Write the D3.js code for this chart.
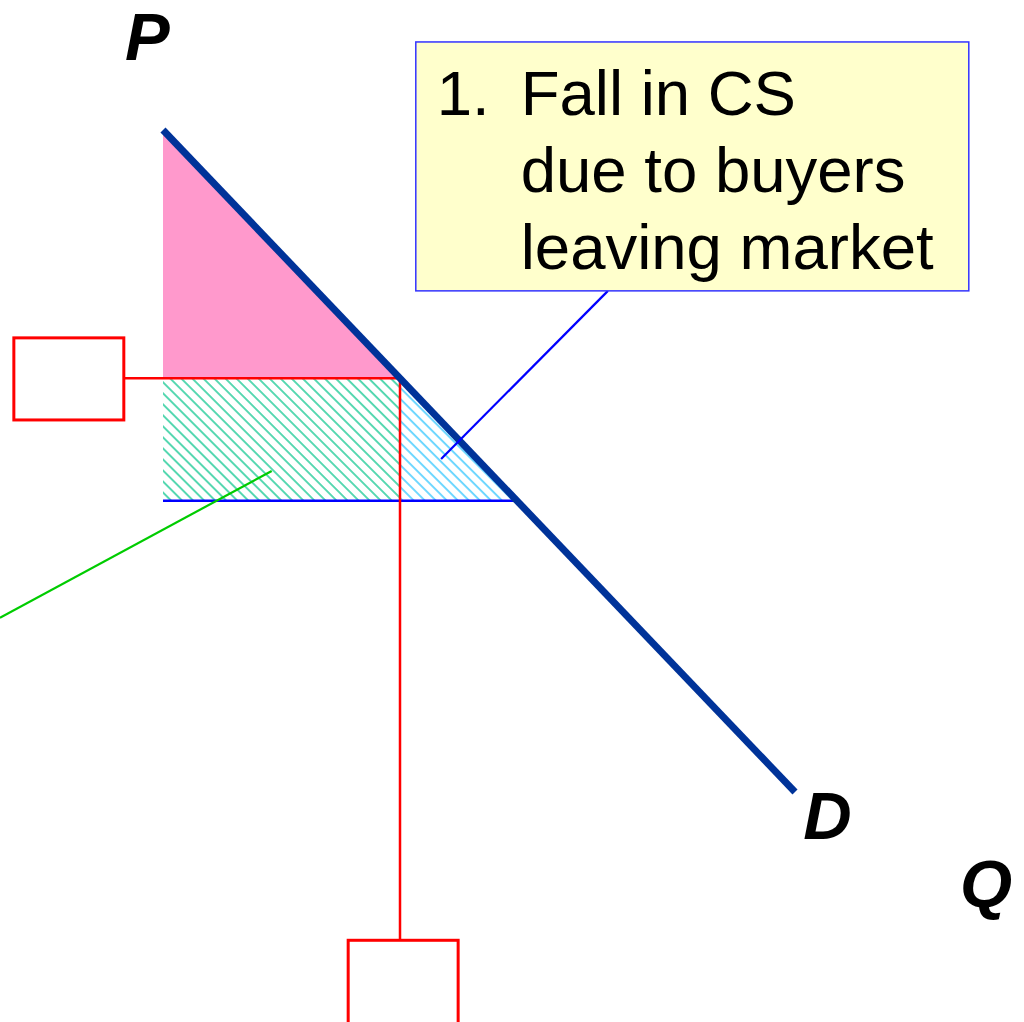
<!DOCTYPE html>
<html>
<head>
<meta charset="utf-8">
<script src="https://cdn.jsdelivr.net/npm/d3@7"></script>
<style>
  html, body { margin: 0; padding: 0; background: #fff; }
  svg { display: block; }
</style>
</head>
<body>
<svg width="1024" height="1022"></svg>
<script>
// кривая спроса: P = 10 - Q
const demandQ = [0, 10];
const demandP = [10, 0];
// цены и количества до/после
const priceLevels = [4.4, 6.25];   // старая цена, новая цена
const qtyLevels = [5.6, 3.75];     // старое количество, новое количество
// подписи
const axisLabels = ["P", "Q", "D"];
const calloutLines = ["Fall in CS", "due to buyers", "leaving market"];
const calloutNum = "1.";

const svg = d3.select("svg");

const x = d3.scaleLinear().domain([0, 10]).range([163, 795]);
const y = d3.scaleLinear().domain([0, 10]).range([792, 130]);

// штриховки
const defs = svg.append("defs");
function hatch(id, color) {
    const p = defs.append("pattern")
        .attr("id", id)
        .attr("patternUnits", "userSpaceOnUse")
        .attr("width", 7.8).attr("height", 8)
        .attr("patternTransform", "rotate(-45)");
    p.append("line")
        .attr("x1", 1).attr("y1", 0).attr("x2", 1).attr("y2", 8)
        .attr("stroke", color).attr("stroke-width", 1.5);
}
hatch("hGreen", "#22cc99");
hatch("hBlue", "#44ccff");

const [p0, p1] = priceLevels;
const [q0, q1] = qtyLevels;
const line = d3.line().x(d => x(d[0])).y(d => y(d[1]));

// розовый треугольник (оставшийся CS)
svg.append("path")
    .attr("d", line([[0, demandP[0]], [0, p1], [q1, p1]]) + "Z")
    .attr("fill", "#ff99cc");

// заштрихованный прямоугольник
svg.append("path")
    .attr("d", line([[0, p1], [q1, p1], [q1, p0], [0, p0]]) + "Z")
    .attr("fill", "url(#hGreen)");

// заштрихованный треугольник
svg.append("path")
    .attr("d", line([[q1, p1], [q1, p0], [q0, p0]]) + "Z")
    .attr("fill", "url(#hBlue)");

// линия старой цены
svg.append("path")
    .attr("d", line([[0, p0], [q0, p0]]))
    .attr("stroke", "#0000ff").attr("stroke-width", 2.5).attr("fill", "none");

// красные выноски
const redBoxes = [
    { q: [-2.36, -0.62], p: [6.86, 5.62] },
    { q: [2.93, 4.67], p: [-2.24, -3.8] }
];
svg.append("path")
    .attr("d", line([[-0.62, p1], [q1, p1], [q1, -2.24]]))
    .attr("stroke", "#ff0000").attr("stroke-width", 2.5).attr("fill", "none");
svg.selectAll(".rbox")
    .data(redBoxes)
    .enter()
    .append("rect")
    .attr("x", d => x(d.q[0]))
    .attr("y", d => y(d.p[0]))
    .attr("width", d => x(d.q[1]) - x(d.q[0]))
    .attr("height", d => y(d.p[1]) - y(d.p[0]))
    .attr("fill", "none").attr("stroke", "#ff0000").attr("stroke-width", 3);

// зелёная выноска
svg.append("path")
    .attr("d", line([[-2.58, 2.63], [1.72, 4.85]]))
    .attr("stroke", "#00cc00").attr("stroke-width", 2.2).attr("fill", "none");

// кривая спроса
svg.append("path")
    .attr("d", line(demandQ.map((q, i) => [q, demandP[i]])))
    .attr("stroke", "#003399").attr("stroke-width", 7).attr("fill", "none");

// синяя выноска к блоку с текстом
svg.append("path")
    .attr("d", line([[7.04, 7.57], [4.40, 5.03]]))
    .attr("stroke", "#0000ff").attr("stroke-width", 2.2).attr("fill", "none");

svg.append("rect")
    .attr("x", x(4.0)).attr("y", y(11.33))
    .attr("width", x(12.75) - x(4.0)).attr("height", y(7.57) - y(11.33))
    .attr("fill", "#ffffcc").attr("stroke", "#3333ff").attr("stroke-width", 1.5);

const font = "'Liberation Sans', Arial, sans-serif";
const fs = 63.5;
svg.append("text")
    .attr("x", x(4.33)).attr("y", y(10.22))
    .attr("font-family", font).attr("font-size", fs)
    .text(calloutNum);
svg.selectAll(".cl")
    .data(calloutLines)
    .enter()
    .append("text")
    .attr("x", x(5.66))
    .attr("y", (d, i) => y(10.22) + i * 77)
    .attr("font-family", font).attr("font-size", fs)
    .text(d => d);

// подписи осей
const labelPos = [[-0.6, 11.06], [12.61, -1.74], [10.13, -0.71]];
svg.selectAll(".al")
    .data(axisLabels)
    .enter()
    .append("text")
    .attr("x", (d, i) => x(labelPos[i][0]))
    .attr("y", (d, i) => y(labelPos[i][1]))
    .attr("font-family", font).attr("font-size", 67)
    .attr("font-weight", "bold").attr("font-style", "italic")
    .text(d => d);
</script>
</body>
</html>
